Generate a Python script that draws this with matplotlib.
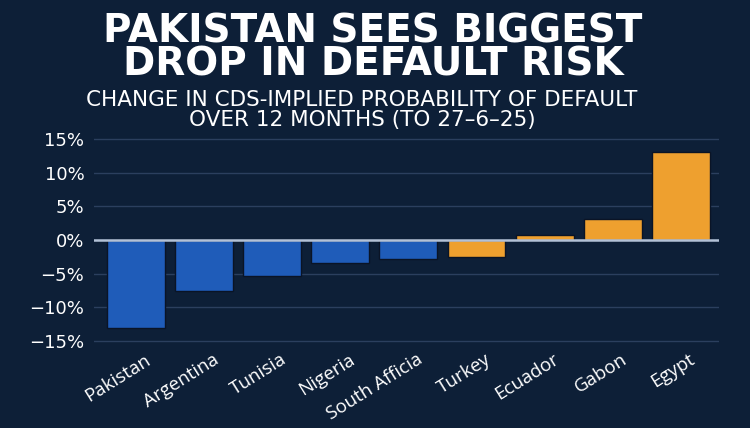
import matplotlib
matplotlib.use("Agg")
import matplotlib.pyplot as plt
from matplotlib.transforms import ScaledTranslation

countries = ["Pakistan", "Argentina", "Tunisia", "Nigeria", "South Afficia",
             "Turkey", "Ecuador", "Gabon", "Egypt"]
change_pct = [-13.0, -7.6, -5.4, -3.35, -2.85, -2.55, 0.75, 3.1, 13.1]
is_highlight = [True, True, True, True, True, False, False, False, False]
yticks = [-15, -10, -5, 0, 5, 10, 15]
ytick_labels = ["\u221215%", "\u221210%", "\u22125%", "0%", "5%", "10%", "15%"]

title_lines = ["PAKISTAN SEES BIGGEST", "DROP IN DEFAULT RISK"]
subtitle_lines = ["CHANGE IN CDS-IMPLIED PROBABILITY OF DEFAULT",
                  "OVER 12 MONTHS (TO 27\u20136\u201325)"]

BG = "#0d1f37"
BLUE = "#1f5cb9"
ORANGE = "#eea02f"

W, H = 750, 428
fig = plt.figure(figsize=(W / 100, H / 100), dpi=100, facecolor=BG)
ax = fig.add_axes([94 / W, 1 - 347.8 / H, 625 / W, 215.6 / H], facecolor=BG)

colors = [BLUE if h else ORANGE for h in is_highlight]
x = list(range(len(countries)))
ax.bar(x, change_pct, width=0.85, color=colors, edgecolor="#0a1426",
       linewidth=1.0, zorder=3)
ax.set_xlim(-0.617, 8.56)
ax.set_ylim(-16, 16)
ax.set_yticks(yticks)
ax.set_yticklabels(ytick_labels)
ax.yaxis.grid(True, color="#2b3f5e", linewidth=1.0, zorder=0)
ax.axhline(0, color="#b3c1d6", linewidth=1.8, zorder=4)
for s in ax.spines.values():
    s.set_visible(False)
ax.tick_params(axis="y", length=0, pad=7, labelcolor="white", labelsize=13)
ax.tick_params(axis="x", length=0, pad=2, labelcolor="white")
ax.set_xticks(x)
ax.set_xticklabels(countries, rotation=32, ha="right", va="top",
                   rotation_mode="anchor", fontsize=13.5, family="Open Sans")
offset = ScaledTranslation(8 / 100, 0, fig.dpi_scale_trans)
for lab in ax.get_xticklabels():
    lab.set_transform(lab.get_transform() + offset)
for lab in ax.get_yticklabels():
    lab.set_family("DejaVu Sans")

fig.text(373 / W, 1 - 48 / H, "\n".join(title_lines), ha="center", va="center",
         multialignment="center", color="white", fontsize=28,
         fontweight="bold", family="DejaVu Sans", linespacing=0.86)
fig.text(362 / W, 1 - 110 / H, "\n".join(subtitle_lines), ha="center", va="center",
         multialignment="center", color="white", fontsize=15.5,
         family="DejaVu Sans", linespacing=0.95)

fig.savefig("out.png", dpi=100, facecolor=BG)
